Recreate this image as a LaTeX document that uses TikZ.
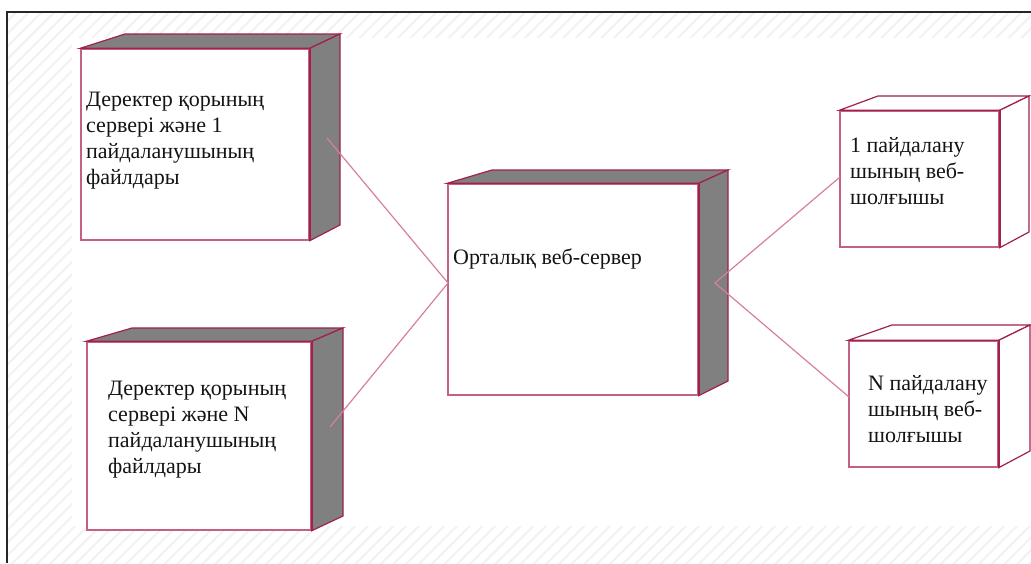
\documentclass[tikz,border=0pt]{standalone}
\usepackage{fontspec}
\setmainfont{Liberation Serif}
\usetikzlibrary{patterns.meta,calc}

\definecolor{boxline}{RGB}{196,96,132}
\definecolor{edgedark}{RGB}{160,32,80}
\definecolor{linkcol}{RGB}{214,128,158}
\definecolor{sidegray}{RGB}{128,128,128}
\definecolor{hatchcol}{RGB}{242,242,242}

\tikzset{
  front/.style={draw=boxline, line width=1.4pt, fill=white, inner sep=0pt},
  face/.style={draw=edgedark, line width=1.2pt, line join=miter},
  link/.style={draw=linkcol, line width=1.2pt},
  label/.style={anchor=base west, align=left, inner sep=0pt,
    font=\fontsize{22}{26}\selectfont, text=black!92},
}

% name, x1, y1, x2, y2, back-left x, back-right x, back top y, face fill
\newcommand\drawcube[9]{%
  \node[front, minimum width={(#4-#2)*1pt}, minimum height={(#5-#3)*1pt}]
    (#1) at ({(#2+#4)/2},{(#3+#5)/2}) {};
  \draw[face, fill=#9] (#1.north west) -- (#6,#8) -- (#7,#8) -- (#1.north east) -- cycle;
  \draw[face, fill=#9] (#1.north east) -- (#7,#8) -- (#7,{#5-(#3-#8)}) -- (#1.south east) -- cycle;
  \draw[edgedark, line width=1.6pt] (#1.north east) -- (#1.south east);
}

\begin{document}
\begin{tikzpicture}[x=1pt, y=-1pt]
  \useasboundingbox (0,0) rectangle (1031,563);
  \fill[white] (0,0) rectangle (1031,563);

  % faint hatched band inside the frame
  \fill[pattern={Lines[angle=45, distance=9pt, line width=2pt]}, pattern color=hatchcol]
    (7,12) rectangle (1031,563);
  \fill[white] (72,38) rectangle (1031,526);

  % frame
  \draw[black!85, line width=2pt] (7,563) -- (7,12) -- (1031,12);

  % deployment nodes
  \drawcube{db1}{81}{49}{309}{240}{125}{340}{34}{sidegray}
  \drawcube{dbN}{87}{342}{311}{530}{132}{343}{328}{sidegray}
  \drawcube{web}{448}{184}{698}{395}{492}{728}{170}{sidegray}
  \drawcube{br1}{840}{111}{999}{247}{878}{1029}{96}{white}
  \drawcube{brN}{849}{341}{998}{467}{892}{1030}{325}{white}

  % connection points
  \coordinate (db1p) at (327,138);
  \coordinate (dbNp) at (330,427);
  \coordinate (webL) at (448,283);
  \coordinate (webR) at (715,283);
  \coordinate (br1p) at (840,177);
  \coordinate (brNp) at (849,397);

  \draw[link] (db1p) -- (webL) -- (dbNp);
  \draw[link] (br1p) -- (webR) -- (brNp);

  % labels (base anchor sits on the last line)
  \node[label] (t1) at (86,184) {Деректер қорының\\сервері және 1\\пайдаланушының\\файлдары};
  \node[label] (t2) at (108,473) {Деректер қорының\\сервері және N\\пайдаланушының\\файлдары};
  \node[label] (t3) at (453,264) {Орталық веб-сервер};
  \node[label] (t4) at (850,204) {1 пайдалану\\шының веб-\\шолғышы};
  \node[label] (t5) at (868,442) {N пайдалану\\шының веб-\\шолғышы};
\end{tikzpicture}
\end{document}
